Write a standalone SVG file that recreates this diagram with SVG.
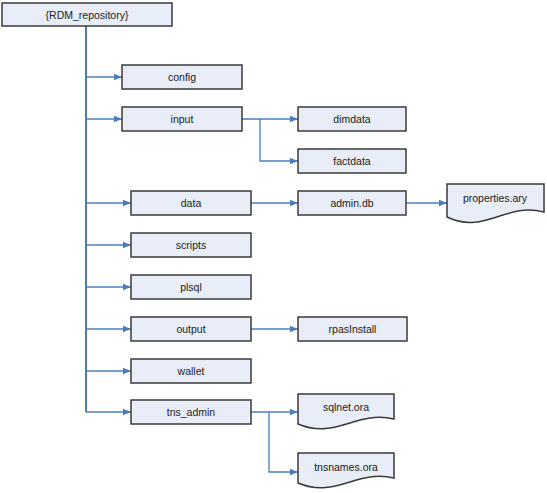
<svg xmlns="http://www.w3.org/2000/svg" width="547" height="493" viewBox="0 0 547 493">
<defs>
<style>
.box{fill:#e8edf7;stroke:#3a3a3a;stroke-width:1.5}
.doc{fill:#e8edf7;stroke:#3a3a3a;stroke-width:1.5}
.lbl{font-family:"Liberation Sans",Arial,sans-serif;font-size:10.5px;fill:#222;text-anchor:middle;dominant-baseline:central}
.con{fill:none;stroke:#4a7ebb;stroke-width:1.3}
.trunk{fill:none;stroke:#4a7ebb;stroke-width:2}
</style>
<marker id="arr" viewBox="0 0 10 10" refX="10" refY="5" markerWidth="8" markerHeight="8" markerUnits="userSpaceOnUse" orient="auto">
<path d="M0,1 L10,5 L0,9 z" fill="#4a7ebb"/>
</marker>
</defs>
<rect width="547" height="493" fill="#ffffff"/>
<g id="connectors">
<path class="trunk" d="M86,26 V412"/>
<path class="con" d="M86,77 H122" marker-end="url(#arr)"/>
<path class="con" d="M86,119 H122" marker-end="url(#arr)"/>
<path class="con" d="M86,203 H131" marker-end="url(#arr)"/>
<path class="con" d="M86,245 H131" marker-end="url(#arr)"/>
<path class="con" d="M86,287 H131" marker-end="url(#arr)"/>
<path class="con" d="M86,329 H131" marker-end="url(#arr)"/>
<path class="con" d="M86,371 H131" marker-end="url(#arr)"/>
<path class="con" d="M86,412 H131" marker-end="url(#arr)"/>
<path class="con" d="M242,119 H298" marker-end="url(#arr)"/>
<path class="con" d="M260,119 V161 H298" marker-end="url(#arr)"/>
<path class="con" d="M251,203 H298" marker-end="url(#arr)"/>
<path class="con" d="M406,203 H447" marker-end="url(#arr)"/>
<path class="con" d="M251,329 H298" marker-end="url(#arr)"/>
<path class="con" d="M251,412 H298" marker-end="url(#arr)"/>
<path class="con" d="M269,412 V472 H298" marker-end="url(#arr)"/>
</g>
<g id="root"><rect class="box" x="2" y="3" width="170" height="23"/><text class="lbl" x="87" y="14.5">{RDM_repository}</text></g>
<g id="config"><rect class="box" x="122" y="65" width="120" height="24"/><text class="lbl" x="182" y="77">config</text></g>
<g id="input"><rect class="box" x="122" y="107" width="120" height="24"/><text class="lbl" x="182" y="119">input</text></g>
<g id="dimdata"><rect class="box" x="298" y="107" width="108" height="24"/><text class="lbl" x="352" y="119">dimdata</text></g>
<g id="factdata"><rect class="box" x="298" y="149" width="108" height="24"/><text class="lbl" x="352" y="161">factdata</text></g>
<g id="data"><rect class="box" x="131" y="191" width="120" height="24"/><text class="lbl" x="191" y="203">data</text></g>
<g id="admindb"><rect class="box" x="298" y="191" width="108" height="24"/><text class="lbl" x="352" y="203">admin.db</text></g>
<g id="properties"><path class="doc" d="M447,184 H544 V212 C505,202 485,235 447,217 Z"/><text class="lbl" x="495" y="198">properties.ary</text></g>
<g id="scripts"><rect class="box" x="131" y="233" width="120" height="24"/><text class="lbl" x="191" y="245">scripts</text></g>
<g id="plsql"><rect class="box" x="131" y="275" width="120" height="24"/><text class="lbl" x="191" y="287">plsql</text></g>
<g id="output"><rect class="box" x="131" y="317" width="120" height="24"/><text class="lbl" x="191" y="329">output</text></g>
<g id="rpasinstall"><rect class="box" x="298" y="317" width="109" height="24"/><text class="lbl" x="352.5" y="329">rpasInstall</text></g>
<g id="wallet"><rect class="box" x="131" y="359" width="120" height="24"/><text class="lbl" x="191" y="371">wallet</text></g>
<g id="tns_admin"><rect class="box" x="131" y="400" width="120" height="24"/><text class="lbl" x="191" y="412">tns_admin</text></g>
<g id="sqlnet"><path class="doc" d="M298,394 H394 V419 C356,410 336,440 298,424 Z"/><text class="lbl" x="346" y="407">sqlnet.ora</text></g>
<g id="tnsnames"><path class="doc" d="M298,453 H394 V478 C356,469 336,499 298,483 Z"/><text class="lbl" x="346" y="467">tnsnames.ora</text></g>
</svg>
